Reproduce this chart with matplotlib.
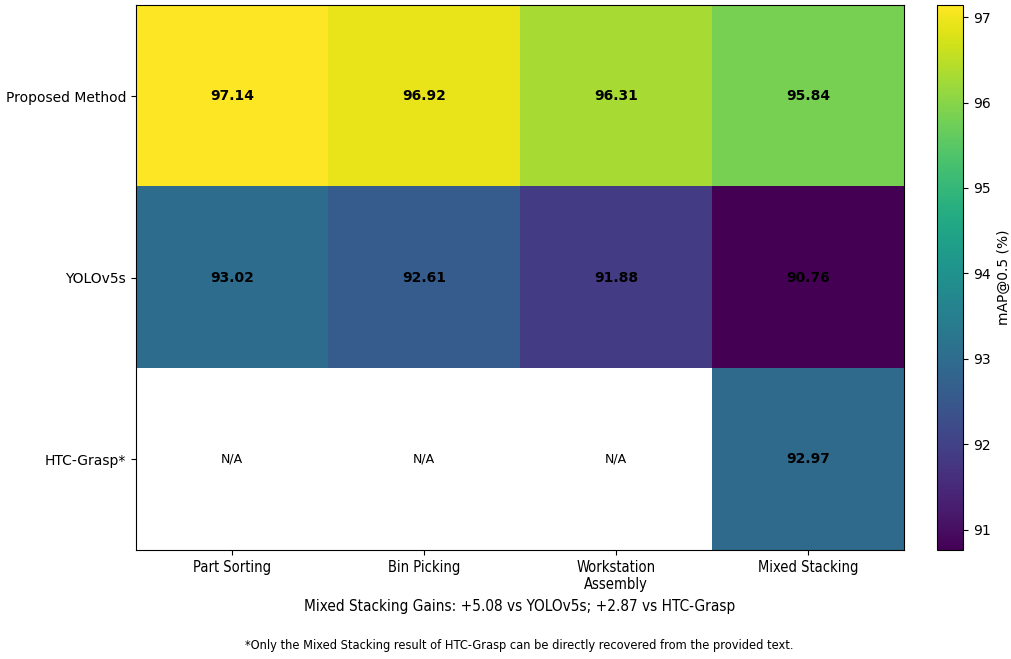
import numpy as np
import matplotlib
matplotlib.use('Agg')
import matplotlib.pyplot as plt

#############################################################################################
# mAP@0.5 per scenario and method (NaN = not reported)

methods = ['Proposed Method', 'YOLOv5s', 'HTC-Grasp*']
scenarios = ['Part Sorting', 'Bin Picking', 'Workstation\nAssembly', 'Mixed Stacking']
proposed = [97.14, 96.92, 96.31, 95.84]
yolov5s = [93.02, 92.61, 91.88, 90.76]
htc_grasp = [np.nan, np.nan, np.nan, 92.97]

gain_text = 'Mixed Stacking Gains: +5.08 vs YOLOv5s; +2.87 vs HTC-Grasp'
footnote = '*Only the Mixed Stacking result of HTC-Grasp can be directly recovered from the provided text.'

#############################################################################################

values = np.array([proposed, yolov5s, htc_grasp])
masked = np.ma.masked_invalid(values)

cmap = plt.get_cmap('viridis').copy()
cmap.set_bad('white')

fig = plt.figure(figsize=(10.11, 6.59), dpi=100)
ax = fig.add_axes([0.1345, 0.1654, 0.7595, 0.8266])
cax = fig.add_axes([0.927, 0.1654, 0.026, 0.8266])

im = ax.imshow(masked, cmap=cmap, aspect='auto',
               vmin=np.nanmin(values), vmax=np.nanmax(values))

ax.set_xticks(range(len(scenarios)))
ax.set_xticklabels(scenarios, fontsize=10.5, fontstretch='condensed')
ax.set_yticks(range(len(methods)))
ax.set_yticklabels(methods, fontsize=10)
ax.set_xlabel(gain_text, fontsize=11, fontstretch='condensed', labelpad=5)

for i in range(values.shape[0]):
	for j in range(values.shape[1]):
		v = values[i, j]
		if np.isnan(v):
			ax.text(j, i, 'N/A', ha='center', va='center', fontsize=9, color='black')
		else:
			ax.text(j, i, '%.2f' % v, ha='center', va='center', fontsize=10,
					fontweight='bold', color='black')

cb = fig.colorbar(im, cax=cax)
cb.set_label('mAP@0.5 (%)', fontsize=10)
cb.ax.tick_params(labelsize=10)

fig.text(0.514, 0.02, footnote, ha='center', va='center', fontsize=9.2, fontstretch='condensed')

plt.savefig('out.png', dpi=100)
